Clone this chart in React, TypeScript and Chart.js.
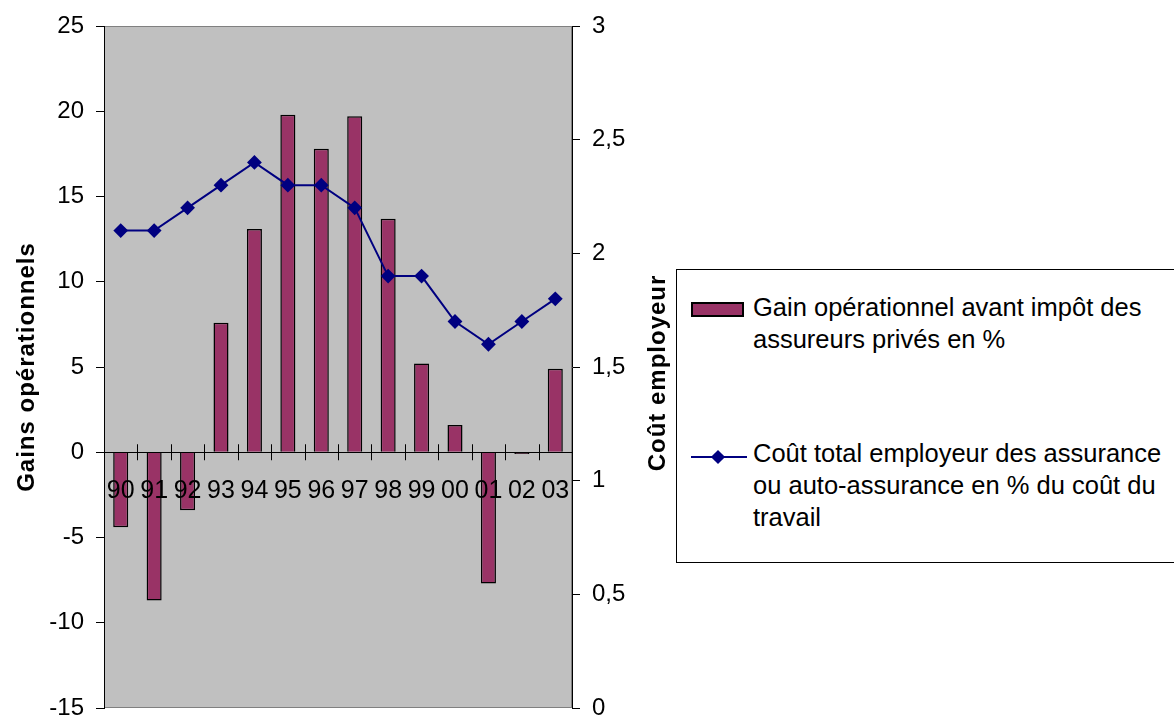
import React, { useEffect, useRef } from 'react';
import { Chart, registerables } from 'chart.js';

Chart.register(...registerables);

const categories = ['90', '91', '92', '93', '94', '95', '96', '97', '98', '99', '00', '01', '02', '03'];
const gains = [-4.4, -8.7, -3.4, 7.6, 13.1, 19.8, 17.8, 19.7, 13.7, 5.2, 1.6, -7.7, -0.1, 4.9];
const cost = [2.1, 2.1, 2.2, 2.3, 2.4, 2.3, 2.3, 2.2, 1.9, 1.9, 1.7, 1.6, 1.7, 1.8];
const gainLabel = ['Gain opérationnel avant impôt des', 'assureurs privés en %'];
const costLabel = ['Coût total employeur des assurance', 'ou auto-assurance en % du coût du', 'travail'];
const leftTitle = 'Gains opérationnels';
const rightTitle = 'Coût employeur';
const leftRange = [-15, 25, 5];
const rightRange = [0, 3, 0.5];

const FONT = '"Liberation Sans", Arial, Helvetica, sans-serif';
const BAR_COLOR = '#993366';
const LINE_COLOR = '#000080';

function drawTitle(ctx: any, text: string, x: number, y: number) {
  ctx.save();
  ctx.fillStyle = '#000';
  ctx.font = `bold 24px ${FONT}`;
  try {
    ctx.letterSpacing = '1px';
  } catch (e) {
    /* ignore */
  }
  ctx.textAlign = 'center';
  ctx.textBaseline = 'middle';
  ctx.translate(x, y);
  ctx.rotate(-Math.PI / 2);
  ctx.fillText(text, 0, 0);
  ctx.restore();
}

const decoPlugin = {
  id: 'deco',
  beforeDraw(chart: any) {
    const { ctx, chartArea: a } = chart;
    ctx.save();
    ctx.fillStyle = '#c0c0c0';
    ctx.fillRect(a.left, a.top, a.right - a.left, a.bottom - a.top);
    ctx.strokeStyle = '#808080';
    ctx.lineWidth = 1;
    ctx.strokeRect(a.left + 0.5, a.top + 0.5, a.right - a.left - 1, a.bottom - a.top - 1);
    ctx.restore();
  },
  beforeDatasetsDraw(chart: any) {
    const { ctx } = chart;
    const xs = chart.scales.x;
    const ys = chart.scales.y;
    const y0 = ys.getPixelForValue(0);
    ctx.save();
    ctx.strokeStyle = '#000';
    ctx.lineWidth = 1;
    ctx.beginPath();
    for (let i = 1; i < categories.length; i++) {
      const x = Math.round(xs.getPixelForValue(i - 0.5)) + 0.5;
      ctx.moveTo(x, y0 - 8);
      ctx.lineTo(x, y0 + 8);
    }
    ctx.stroke();
    ctx.restore();
  },
  afterDraw(chart: any) {
    const { ctx, chartArea: a } = chart;
    const cy = (a.top + a.bottom) / 2;
    drawTitle(ctx, leftTitle, 27, cy);
    drawTitle(ctx, rightTitle, 658, cy + 6);
  },
};

export default function App() {
  const ref = useRef<HTMLCanvasElement | null>(null);

  useEffect(() => {
    if (!ref.current) return;
    const chart = new Chart(ref.current, {
      type: 'bar',
      data: {
        labels: categories,
        datasets: [
          {
            type: 'line',
            label: costLabel.join(' '),
            data: cost,
            yAxisID: 'y1',
            borderColor: LINE_COLOR,
            backgroundColor: LINE_COLOR,
            borderWidth: 2,
            pointStyle: 'rectRot',
            pointRadius: 6,
            pointBackgroundColor: LINE_COLOR,
            pointBorderColor: LINE_COLOR,
            tension: 0,
            order: 0,
          } as any,
          {
            type: 'bar',
            label: gainLabel.join(' '),
            data: gains,
            yAxisID: 'y',
            backgroundColor: BAR_COLOR,
            borderColor: '#000',
            borderWidth: 1.5,
            categoryPercentage: 1,
            barPercentage: 0.45,
            order: 1,
          } as any,
        ],
      },
      options: {
        animation: false,
        responsive: false,
        maintainAspectRatio: false,
        layout: { padding: { left: 0, top: 26, right: 502, bottom: 8 } },
        plugins: { legend: { display: false }, tooltip: { enabled: false } },
        scales: {
          x: {
            type: 'category',
            position: { y: 0 } as any,
            offset: true,
            grid: { display: false, drawTicks: false },
            border: { display: true, color: '#000', width: 1, z: 1 } as any,
            ticks: {
              z: 1,
              color: '#000',
              padding: 24,
              font: { family: FONT, size: 25 },
              maxRotation: 0,
              autoSkip: false,
            } as any,
          },
          y: {
            type: 'linear',
            position: 'left',
            min: leftRange[0],
            max: leftRange[1],
            afterFit: (s: any) => {
              s.width = 104;
              s.paddingTop = 0;
              s.paddingBottom = 0;
            },
            grid: { drawOnChartArea: false, color: '#000', tickLength: 8 },
            border: { display: true, color: '#000', width: 1 },
            ticks: {
              stepSize: leftRange[2],
              color: '#000',
              padding: 12,
              font: { family: FONT, size: 24 },
            },
          },
          y1: {
            type: 'linear',
            position: 'right',
            min: rightRange[0],
            max: rightRange[1],
            afterFit: (s: any) => {
              s.width = 100;
              s.paddingTop = 0;
              s.paddingBottom = 0;
            },
            grid: { drawOnChartArea: false, color: '#000', tickLength: 8 },
            border: { display: true, color: '#000', width: 1 },
            ticks: {
              stepSize: rightRange[2],
              color: '#000',
              padding: 12,
              font: { family: FONT, size: 24 },
              callback: (v: any) => String(v).replace('.', ','),
            },
          },
        },
      },
      plugins: [decoPlugin],
    });
    return () => chart.destroy();
  }, []);

  const textStyle: React.CSSProperties = {
    position: 'absolute',
    left: 753,
    fontFamily: FONT,
    fontSize: 25.5,
    lineHeight: '32px',
    color: '#000',
    whiteSpace: 'nowrap',
  };

  return (
    <div style={{ position: 'absolute', left: 0, top: 0, width: 1174, height: 716, overflow: 'hidden', background: '#fff' }}>
      <canvas ref={ref} width={1174} height={716} style={{ position: 'absolute', left: 0, top: 0, width: 1174, height: 716 }} />
      <div
        style={{
          position: 'absolute',
          left: 676,
          top: 269,
          width: 560,
          height: 294,
          border: '1px solid #000',
          background: '#fff',
          boxSizing: 'border-box',
        }}
      />
      <div
        style={{
          position: 'absolute',
          left: 691,
          top: 302,
          width: 53,
          height: 15,
          background: BAR_COLOR,
          border: '2px solid #000',
          boxSizing: 'border-box',
        }}
      />
      <div style={{ ...textStyle, top: 291 }}>
        {gainLabel.map((l, i) => (
          <div key={i}>{l}</div>
        ))}
      </div>
      <div style={{ position: 'absolute', left: 691, top: 456, width: 56, height: 2, background: LINE_COLOR }} />
      <div
        style={{
          position: 'absolute',
          left: 713,
          top: 452,
          width: 10,
          height: 10,
          background: LINE_COLOR,
          transform: 'rotate(45deg)',
        }}
      />
      <div style={{ ...textStyle, top: 437 }}>
        {costLabel.map((l, i) => (
          <div key={i}>{l}</div>
        ))}
      </div>
    </div>
  );
}
